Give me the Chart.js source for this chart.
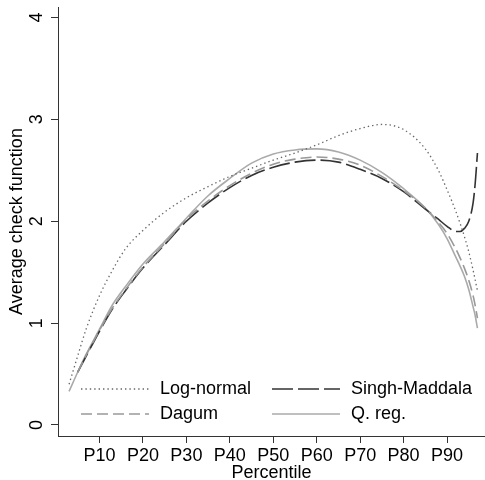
<!DOCTYPE html>
<html>
<head>
<meta charset="utf-8">
<script src="https://cdn.jsdelivr.net/npm/chart.js@4/dist/chart.umd.min.js"></script>
<style>
  html, body { margin: 0; padding: 0; background: #fff; overflow: hidden; }
</style>
</head>
<body>
<canvas id="myChart" width="485" height="490"></canvas>
<script>
const percentiles = [3, 5, 7, 10, 13, 16, 20, 25, 30, 35, 40, 45, 50, 55, 60, 65, 70, 75, 80, 85, 88, 90, 92, 93, 94, 95, 96, 96.5, 97];

const logNormal    = [0.40, 0.68, 0.95, 1.27, 1.52, 1.73, 1.91, 2.09, 2.23, 2.34, 2.44, 2.52, 2.60, 2.67, 2.75, 2.84, 2.91, 2.95, 2.90, 2.71, 2.50, 2.31, 2.10, 1.98, 1.85, 1.70, 1.52, 1.42, 1.32];
const dagum        = [null, 0.52, 0.69, 0.93, 1.15, 1.33, 1.55, 1.78, 2.02, 2.20, 2.35, 2.47, 2.56, 2.61, 2.63, 2.61, 2.55, 2.44, 2.30, 2.13, 1.99, 1.88, 1.73, 1.64, 1.54, 1.42, 1.27, 1.17, 1.05];
const singhMaddala = [null, 0.52, 0.68, 0.92, 1.14, 1.32, 1.54, 1.77, 2.00, 2.18, 2.33, 2.45, 2.53, 2.58, 2.60, 2.58, 2.51, 2.42, 2.29, 2.12, 2.02, 1.95, 1.90, 1.90, 1.93, 2.00, 2.18, 2.38, 2.67];
const qReg         = [0.33, 0.52, 0.70, 0.94, 1.18, 1.36, 1.58, 1.80, 2.03, 2.25, 2.42, 2.57, 2.66, 2.70, 2.71, 2.68, 2.60, 2.48, 2.32, 2.13, 1.97, 1.83, 1.65, 1.56, 1.46, 1.33, 1.16, 1.07, 0.95];

const xTicks = [10, 20, 30, 40, 50, 60, 70, 80, 90];
const yTicks = [0, 1, 2, 3, 4];

const FONT = '"Liberation Sans", Arial, Helvetica, sans-serif';

const toPoints = vals => percentiles
  .map((p, i) => ({ x: p, y: vals[i] }))
  .filter(pt => pt.y !== null);

// R style legend, two columns inside the plot
const rLegend = {
  id: 'rLegend',
  afterDatasetsDraw(chart) {
    const ctx = chart.ctx;
    const area = chart.chartArea;
    ctx.save();
    chart.data.datasets.forEach((ds, i) => {
      const col = Math.floor(i / 2);
      const row = i % 2;
      const x = area.left + 23 + col * 191;
      const y = area.bottom - 47 + row * 25;
      ctx.strokeStyle = ds.borderColor;
      ctx.lineWidth = ds.borderWidth;
      ctx.setLineDash(ds.borderDash || []);
      ctx.beginPath();
      ctx.moveTo(x, y);
      ctx.lineTo(x + 68, y);
      ctx.stroke();
      ctx.setLineDash([]);
      ctx.fillStyle = '#000';
      ctx.font = '18px ' + FONT;
      ctx.textBaseline = 'middle';
      ctx.textAlign = 'left';
      ctx.fillText(ds.label, x + 79, y);
    });
    ctx.restore();
  }
};

new Chart(document.getElementById('myChart').getContext('2d'), {
  type: 'line',
  data: {
    datasets: [{
      label: 'Log-normal',
      data: toPoints(logNormal),
      borderColor: '#666',
      borderWidth: 1.3,
      borderDash: [1.4, 3]
    }, {
      label: 'Dagum',
      data: toPoints(dagum),
      borderColor: '#999',
      borderWidth: 1.6,
      borderDash: [11, 5]
    }, {
      label: 'Singh-Maddala',
      data: toPoints(singhMaddala),
      borderColor: '#333',
      borderWidth: 1.6,
      borderDash: [21, 5]
    }, {
      label: 'Q. reg.',
      data: toPoints(qReg),
      borderColor: '#aaa',
      borderWidth: 1.6,
      borderDash: []
    }]
  },
  options: {
    responsive: false,
    animation: false,
    layout: { padding: { top: 7, right: 0, left: 0, bottom: 0 } },
    elements: {
      point: { radius: 0 },
      line: { cubicInterpolationMode: 'monotone', fill: false }
    },
    plugins: {
      legend: { display: false },
      tooltip: { enabled: false }
    },
    scales: {
      x: {
        type: 'linear',
        min: 0.45,
        max: 98.74,
        afterBuildTicks: scale => { scale.ticks = xTicks.map(v => ({ value: v })); },
        afterFit: scale => { scale.height = 54; scale.paddingLeft = 0; scale.paddingRight = 0; },
        ticks: {
          callback: v => 'P' + v,
          color: '#000',
          font: { family: FONT, size: 18 },
          padding: 2,
          maxRotation: 0
        },
        grid: { drawOnChartArea: false, tickLength: 7, color: '#333' },
        border: { display: true, color: '#333', width: 1 },
        title: {
          display: true,
          text: 'Percentile',
          color: '#000',
          font: { family: FONT, size: 18 },
          padding: { top: 0, bottom: 6 }
        }
      },
      y: {
        min: -0.108,
        max: 4.103,
        afterBuildTicks: scale => { scale.ticks = yTicks.map(v => ({ value: v })); },
        afterFit: scale => { scale.width = 58; scale.paddingTop = 0; scale.paddingBottom = 0; },
        ticks: {
          color: '#000',
          font: { family: FONT, size: 18 },
          padding: 9,
          minRotation: 90,
          maxRotation: 90,
          crossAlign: 'center'
        },
        grid: { drawOnChartArea: false, tickLength: 7, color: '#333' },
        border: { display: true, color: '#333', width: 1 },
        title: {
          display: true,
          text: 'Average check function',
          color: '#000',
          font: { family: FONT, size: 18 },
          padding: { top: 6, bottom: 0 }
        }
      }
    }
  },
  plugins: [rLegend]
});
</script>
</body>
</html>
